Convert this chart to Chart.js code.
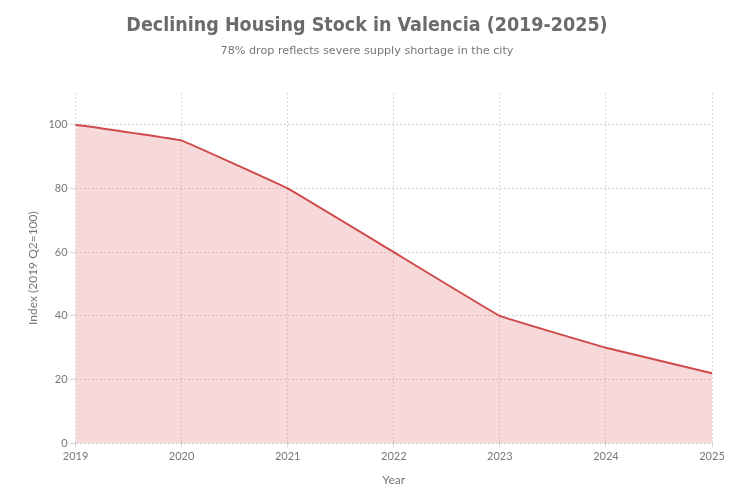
<!DOCTYPE html>
<html>
<head>
<meta charset="utf-8">
<script src="https://cdn.jsdelivr.net/npm/chart.js@4"></script>
<style>
html,body{margin:0;padding:0;background:#fff;}
#wrap{width:750px;height:500px;}
</style>
</head>
<body>
<div id="wrap"><canvas id="c" width="750" height="500"></canvas></div>
<script>
const years = ["2019","2020","2021","2022","2023","2024","2025"];
const stockIndex = [100, 95, 80, 60, 40, 30, 22];
const titleText = "Declining Housing Stock in Valencia (2019-2025)";
const subtitleText = "78% drop reflects severe supply shortage in the city";
const xAxisTitle = "Year";
const yAxisTitle = "Index (2019 Q2=100)";

const gridCol = "rgba(0,0,0,0.16)";
new Chart(document.getElementById("c"), {
  type: "line",
  data: {
    labels: years,
    datasets: [{
      data: stockIndex,
      borderColor: "#cf4a4a",
      backgroundColor: "rgba(231,120,120,0.28)",
      borderWidth: 2,
      fill: true,
      tension: 0.05,
      pointRadius: 0
    }]
  },
  options: {
    responsive: false,
    animation: false,
    layout: { padding: { left: 22, right: 38, top: 8, bottom: 9 } },
    plugins: {
      legend: { display: false },
      tooltip: { enabled: false },
      title: {
        display: true, text: titleText, color: "#6b6b6b",
        font: { family: "DejaVu Sans Condensed", size: 19.5, weight: "bold" },
        padding: { top: 6, bottom: 7 }
      },
      subtitle: {
        display: true, text: subtitleText, color: "#777",
        font: { family: "DejaVu Sans", size: 11.2 },
        padding: { bottom: 35 }
      }
    },
    scales: {
      x: {
        offset: false,
        grid: { color: gridCol, tickLength: 4 },
        border: { display: false, dash: [2, 2] },
        ticks: { color: "#777", font: { family: "Lato", size: 11 }, maxRotation: 0, padding: 2 },
        title: { display: true, text: xAxisTitle, color: "#777", font: { family: "Lato", size: 12 }, padding: { top: 8 } }
      },
      y: {
        min: 0, max: 110,
        grid: { color: gridCol, tickLength: 6 },
        border: { display: false, dash: [2, 2] },
        ticks: { stepSize: 20, includeBounds: false, color: "#777", font: { family: "Lato", size: 11 }, padding: 2 },
        title: { display: true, text: yAxisTitle, color: "#777", font: { family: "Lato", size: 12 }, padding: { bottom: 6 } }
      }
    }
  }
});
</script>
</body>
</html>
